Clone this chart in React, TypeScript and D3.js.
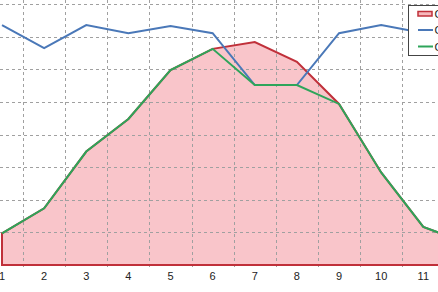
import React from "react";
import * as d3 from "d3";

const categories = ["1", "2", "3", "4", "5", "6", "7", "8", "9", "10", "11", "12"];
const redValues = [9.7, 17.4, 34.8, 44.8, 59.8, 66.3, 68.4, 62.3, 49.4, 28.4, 11.7, 6.9];
const blueValues = [73.6, 66.5, 73.6, 71.1, 73.3, 71.1, 55.2, 55.2, 71.1, 73.6, 71.2, 72.0];
const greenValues = [9.7, 17.4, 34.8, 44.8, 59.8, 66.3, 55.2, 55.2, 49.4, 28.4, 11.7, 6.9];
const yTicks = [0, 10, 20, 30, 40, 50, 60, 70, 80];
const seriesNames = ["Col1", "Col2", "Col3"];

const W = 438;
const H = 292;

export default function App() {
  const step = 42.13;
  const x = d3
    .scalePoint<string>()
    .domain(categories)
    .range([2, 2 + step * (categories.length - 1)]);
  const y = d3.scaleLinear().domain([0, 80]).range([265, 4.2]);

  const pts = (vals: number[]) => categories.map((c, i) => [x(c)!, y(vals[i])] as [number, number]);

  const line = d3.line<[number, number]>().x((d) => d[0]).y((d) => d[1]);
  const area = d3
    .area<[number, number]>()
    .x((d) => d[0])
    .y0(y(0))
    .y1((d) => d[1]);

  const redPts = pts(redValues);
  const areaPath = area(redPts)! + "Z";

  const gridX = categories.map((c) => x(c)! - step / 2).concat([x(categories[categories.length - 1])! + step / 2]);

  const font = "'Liberation Sans', Arial, sans-serif";
  const visibleLabels = categories.filter((c) => x(c)! < W);

  return (
    <svg
      width={W}
      height={H}
      style={{ position: "fixed", left: 0, top: 0, background: "#fff", display: "block" }}
    >
      <rect x={0} y={0} width={W} height={H} fill="#fff" />
      {/* area */}
      <path d={areaPath} fill="#ee5a66" fillOpacity={0.35} stroke="none" />
      {/* grid */}
      {yTicks.slice(1).map((t) => (
        <line
          key={"gy" + t}
          x1={-30}
          x2={W + 30}
          y1={Math.round(y(t)) + 0.5}
          y2={Math.round(y(t)) + 0.5}
          stroke="#a0a0a0"
          strokeDasharray="3,3"
          strokeWidth={1}
        />
      ))}
      {gridX.map((gx, i) => (
        <line
          key={"gx" + i}
          x1={Math.round(gx) + 0.5}
          x2={Math.round(gx) + 0.5}
          y1={0}
          y2={269}
          stroke="#a0a0a0"
          strokeDasharray="3,3"
          strokeWidth={1}
        />
      ))}
      {/* area outline */}
      <path d={areaPath} fill="none" stroke="#c0303a" strokeWidth={2} strokeLinejoin="miter" />
      {/* lines */}
      <path d={line(pts(blueValues))!} fill="none" stroke="#4a78b8" strokeWidth={2} />
      <path d={line(pts(greenValues))!} fill="none" stroke="#2ea55a" strokeWidth={2} />
      {/* x labels */}
      {visibleLabels.map((c) => (
        <text
          key={"xl" + c}
          x={x(c)!}
          y={280}
          textAnchor="middle"
          fontFamily={font}
          fontSize={11}
          fill="#222"
        >
          {c}
        </text>
      ))}
      {/* legend */}
      <g>
        <rect x={408.5} y={5.5} width={80} height={50} fill="#fff" stroke="#444" strokeWidth={1} />
        <rect x={418} y={11.5} width={14} height={4.5} fill="#f7b8bc" stroke="#c0303a" strokeWidth={1.5} />
        <line x1={418} x2={433} y1={30} y2={30} stroke="#4a78b8" strokeWidth={2} />
        <line x1={418} x2={433} y1={46.5} y2={46.5} stroke="#2ea55a" strokeWidth={2} />
        {seriesNames.map((n, i) => (
          <text
            key={n}
            x={434.5}
            y={[17.5, 34, 50.5][i]}
            fontFamily={font}
            fontSize={11}
            fill="#222"
          >
            {n}
          </text>
        ))}
      </g>
    </svg>
  );
}
